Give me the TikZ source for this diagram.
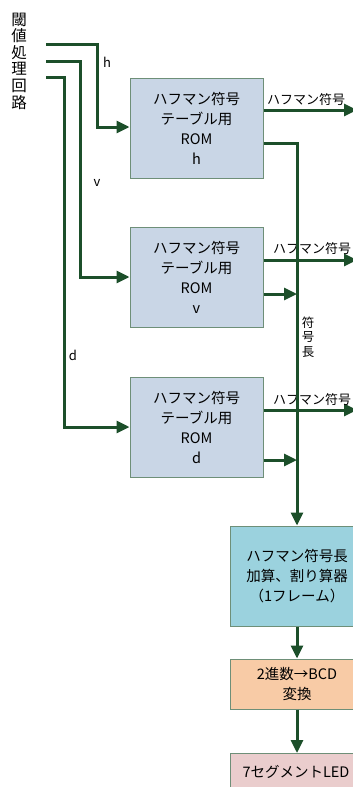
\documentclass[tikz,border=0pt]{standalone}
\usepackage{fontspec}
\setmainfont{Noto Sans CJK JP}
\usetikzlibrary{arrows.meta}
\definecolor{wire}{HTML}{1C4F2A}
\definecolor{romfill}{HTML}{C9D6E6}
\definecolor{romedge}{HTML}{6E8F78}
\definecolor{sumfill}{HTML}{9BD2DE}
\definecolor{bcdfill}{HTML}{F8CBA6}
\definecolor{ledfill}{HTML}{EACDCD}
\tikzset{
  wireline/.style={draw=wire, line width=3pt},
  arr/.style={wireline, -{Triangle[length=13pt,width=12pt]}},
  rombox/.style={draw=romedge, line width=1pt, fill=romfill, minimum width=133pt, minimum height=100pt, align=center, font=\fontsize{14.5}{20}\selectfont, inner sep=0pt},
  sumbox/.style={rombox, fill=sumfill, minimum width=134pt},
  bcdbox/.style={rombox, fill=bcdfill, minimum width=134pt, minimum height=50pt},
  ledbox/.style={rombox, fill=ledfill, minimum width=134pt, minimum height=60pt},
  lbl/.style={font=\fontsize{13}{14}\selectfont, inner sep=0pt},
  vlbl/.style={font=\fontsize{15.5}{16.6}\selectfont, align=center, inner sep=0pt},
}
\begin{document}
\begin{tikzpicture}[x=1pt,y=-1pt]
\useasboundingbox (0,0) rectangle (353,787);
\clip (0,0) rectangle (353,787);
% nodes
\node[rombox] (romh) at (196.5,128) {ハフマン符号\\テーブル用\\ROM\\h};
\node[rombox] (romv) at (196.5,277) {ハフマン符号\\テーブル用\\ROM\\v};
\node[rombox] (romd) at (196.5,427) {ハフマン符号\\テーブル用\\ROM\\d};
\node[sumbox] (sum) at (297,576) {ハフマン符号長\\加算、割り算器\\（1フレーム）};
\node[bcdbox] (bcd) at (297,684) {2進数→BCD\\変換};
\node[ledbox, anchor=north] (led) at (297,753) {};
\node[font=\fontsize{14.5}{20}\selectfont, inner sep=0pt] (ledtxt) at (296,772) {7セグメントLED};
% source label
\node[vlbl] (src) at (19,61) {閾\\値\\処\\理\\回\\路};
% input wires
\coordinate (inh) at (46,44);
\coordinate (inv) at (46,61);
\coordinate (ind) at (46,77);
\draw[arr] (inh) -| (97,127) -- (romh.west |- 0,127);
\draw[arr] (inv) -| (80,277) -- (romv.west |- 0,277);
\draw[arr] (ind) -| (64,427) -- (romd.west |- 0,427);
\node[lbl] (lh) at (107,62) {h};
\node[lbl] (lv) at (97,183) {v};
\node[lbl] (ld) at (73,355) {d};
% huffman code outputs
\coordinate (oh) at (357,110);
\coordinate (ov) at (357,260);
\coordinate (od) at (357,410);
\draw[arr] (romh.east |- 0,110) -- (oh);
\draw[arr] (romv.east |- 0,260) -- (ov);
\draw[arr] (romd.east |- 0,410) -- (od);
\node[lbl] (ch) at (306,100) {ハフマン符号};
\node[lbl] (cv) at (312,249) {ハフマン符号};
\node[lbl] (cd) at (312,400) {ハフマン符号};
% code length bus
\coordinate (bv) at (297,294);
\coordinate (bd) at (297,460);
\draw[arr] (romh.east |- 0,143) -| (sum.north);
\draw[arr] (romv.east |- 0,294) -- (bv);
\draw[arr] (romd.east |- 0,460) -- (bd);
\node[font=\fontsize{12.5}{14.5}\selectfont, align=center, inner sep=0pt] (len) at (308,337) {符\\号\\長};
% chain
\draw[arr] (sum.south) -- (bcd.north);
\draw[arr] (bcd.south) -- (led.north);
\end{tikzpicture}
\end{document}
